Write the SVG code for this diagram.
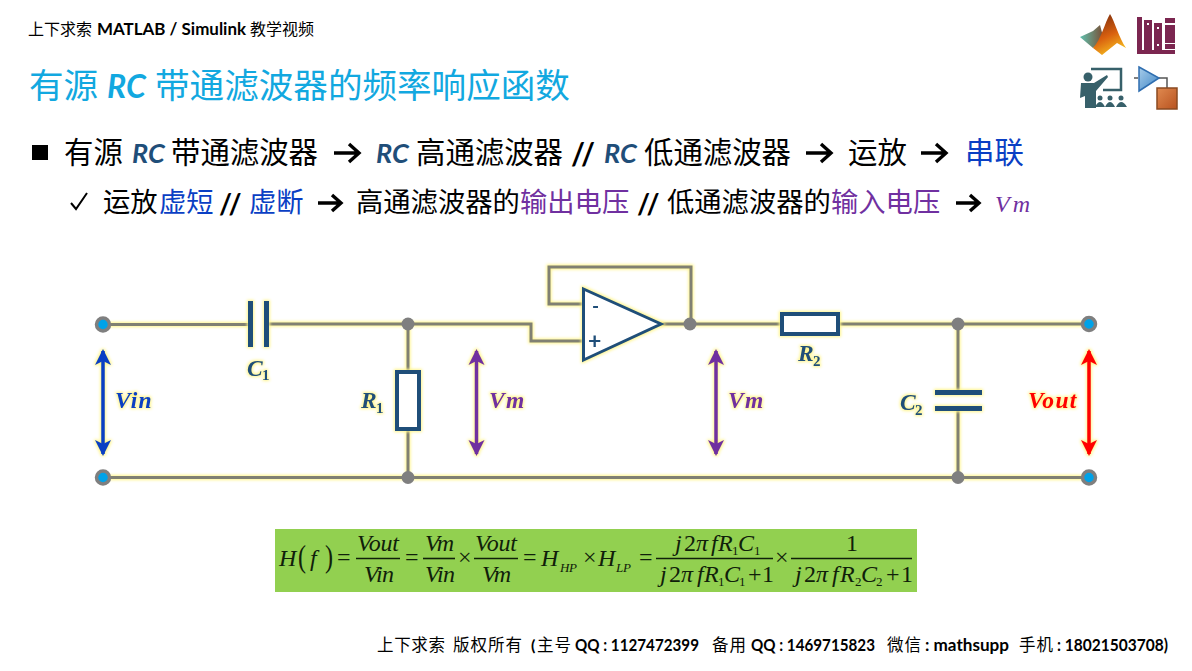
<svg xmlns="http://www.w3.org/2000/svg" width="1192" height="671" viewBox="0 0 1192 671">
<style>
text{font-family:"Noto Sans CJK SC",sans-serif;fill:#000}
.lat{font-family:"Lato","Noto Sans CJK SC",sans-serif;font-weight:700}
.rc{font-family:"Lato",sans-serif;font-weight:700;font-style:italic;fill:#1F4E79;font-size:27px}
.t1{font-size:29.4px}
.t2{font-size:27.3px}
.sl{font-family:"Lato",sans-serif;font-weight:700;letter-spacing:3px;font-size:30px}
.sl2{font-family:"Lato",sans-serif;font-weight:700;letter-spacing:3px;font-size:28px}
.tt{font-size:34.6px;fill:#12A8E0}
.blue{fill:#0A3FC4}
.pur{fill:#7030A0}
.wire{fill:none;stroke:#808072;stroke-width:3}
.comp{fill:none;stroke:#1F4E79;stroke-width:4}
.plate{fill:#1F4E79}
.lab{font-family:"Liberation Serif",serif;font-weight:700;font-style:italic;font-size:23.5px;fill:#1F4E79;letter-spacing:1.300px}
.sub{font-family:"Liberation Serif",serif;font-weight:700;font-size:15px;fill:#1F4E79}
.eq{font-family:"Liberation Serif",serif;font-style:italic;font-size:24px;fill:#10200a}
.eqs{font-family:"Liberation Serif",serif;font-style:italic;font-size:13px;fill:#10200a}
.eqn{font-family:"Liberation Serif",serif;font-size:24px;fill:#10200a}
.eqi{font-family:"Liberation Serif",serif;font-size:13px;fill:#10200a}
.bar{stroke:#10200a;stroke-width:1.600}
.term{fill:#00A2E8;stroke:#7F7F7F;stroke-width:3.500}
.junc{fill:#7F7F7F}
.arr{fill:none;stroke:#000;stroke-width:3.400}
</style>
<defs>
<filter id="glow" x="-20%" y="-20%" width="140%" height="140%" color-interpolation-filters="sRGB">
<feMorphology in="SourceAlpha" operator="dilate" radius="1" result="d"/>
<feGaussianBlur in="d" stdDeviation="1.400" result="b"/>
<feFlood flood-color="#FFF58A"/>
<feComposite in2="b" operator="in"/>
<feMerge><feMergeNode/><feMergeNode in="SourceGraphic"/></feMerge>
</filter>
<marker id="ab" viewBox="0 0 16 20" refX="14" refY="10" markerUnits="userSpaceOnUse" markerWidth="16" markerHeight="20" orient="auto-start-reverse"><path d="M0 2L16 10L0 18L4 10Z" fill="#0A3FC4"/></marker>
<marker id="ap" viewBox="0 0 16 20" refX="14" refY="10" markerUnits="userSpaceOnUse" markerWidth="16" markerHeight="20" orient="auto-start-reverse"><path d="M0 2L16 10L0 18L4 10Z" fill="#7030A0"/></marker>
<marker id="ar" viewBox="0 0 16 20" refX="14" refY="10" markerUnits="userSpaceOnUse" markerWidth="16" markerHeight="20" orient="auto-start-reverse"><path d="M0 2L16 10L0 18L4 10Z" fill="#FF0000"/></marker>
<linearGradient id="mat" x1="0.2" y1="0" x2="0.6" y2="1"><stop offset="0" stop-color="#7a2c0c"/><stop offset=".55" stop-color="#d9600f"/><stop offset="1" stop-color="#f7c020"/></linearGradient>
<linearGradient id="mat2" x1="0" y1="0" x2="1" y2="0"><stop offset="0" stop-color="#5fc0ae"/><stop offset="1" stop-color="#7a4a30"/></linearGradient>
<linearGradient id="tri" x1="0" y1="0" x2="1" y2="1"><stop offset="0" stop-color="#a8cdea"/><stop offset="1" stop-color="#3f86c6"/></linearGradient>
<linearGradient id="sq" x1="0" y1="0" x2="1" y2="1"><stop offset="0" stop-color="#e08a50"/><stop offset="1" stop-color="#b8521f"/></linearGradient>
</defs>

<g id="header">
<text x="28" y="35" font-size="16" textLength="64">上下求索</text>
<text class="lat" x="97" y="35" font-size="17" textLength="149" lengthAdjust="spacingAndGlyphs">MATLAB / Simulink</text>
<text x="250" y="35" font-size="16" textLength="64">教学视频</text>
</g>
<g id="title">
<text class="tt" x="29" y="98">有源</text>
<text x="107" y="98" font-size="32" style="font-family:Lato,sans-serif;font-weight:700;font-style:italic;fill:#12A8E0">RC</text>
<text class="tt" x="155" y="98">带通滤波器的频率响应函数</text>
</g>
<g id="line1">
<rect x="32" y="145" width="16" height="15"/>
<text class="t1" x="64" y="163">有源</text>
<text class="rc" x="132" y="163">RC</text>
<text class="t1" x="171" y="163">带通滤波器</text>
<path class="arr" d="M334 153H358M349 144L359 153L349 162"/>
<text class="rc" x="376" y="163">RC</text>
<text class="t1" x="416" y="163">高通滤波器</text>
<text class="sl" x="571" y="165">//</text>
<text class="rc" x="604" y="163">RC</text>
<text class="t1" x="644" y="163">低通滤波器</text>
<path class="arr" d="M806 153H830M821 144L831 153L821 162"/>
<text class="t1" x="848" y="163">运放</text>
<path class="arr" d="M921 153H945M936 144L946 153L936 162"/>
<text class="t1 blue" x="965" y="163">串联</text>
</g>
<g id="line2">
<path d="M71 203L76 209L87 193" fill="none" stroke="#000" stroke-width="2"/>
<text class="t2" x="103" y="212">运放</text>
<text class="t2 blue" x="159" y="212">虚短</text>
<text class="sl2" x="219" y="214">//</text>
<text class="t2 blue" x="249" y="212">虚断</text>
<path class="arr" d="M318 203H340M332 195L341 203L332 211"/>
<text class="t2" x="356" y="212">高通滤波器的</text>
<text class="t2 pur" x="520" y="212">输出电压</text>
<text class="sl2" x="637" y="214">//</text>
<text class="t2" x="667" y="212">低通滤波器的</text>
<text class="t2 pur" x="831" y="212">输入电压</text>
<path class="arr" d="M956 203H978M970 195L979 203L970 211"/>
<text x="995" y="212" font-size="24" textLength="35" style="font-family:'Liberation Serif',serif;font-style:italic;fill:#7030A0">Vm</text>
</g>

<g id="icons">
<g id="icon-matlab">
<path d="M1080 37L1093 31L1100 25L1104 40L1093 48Z" fill="url(#mat2)"/>
<path d="M1110 14C1115 22 1119 38 1126 48L1117 43L1102 55L1093 48C1101 40 1105 22 1110 14Z" fill="url(#mat)"/>
</g>
<g id="icon-books" fill="#7B2650">
<rect x="1137" y="17" width="5" height="33"/><rect x="1144" y="20" width="8" height="30"/><rect x="1154" y="23" width="8" height="27"/><rect x="1165" y="18" width="10" height="5"/><rect x="1165" y="25" width="10" height="18"/><rect x="1165" y="44" width="10" height="5"/><rect x="1137" y="50" width="38" height="4"/>
<rect x="1147" y="23" width="2" height="2" fill="#fff"/><rect x="1157" y="27" width="2" height="2" fill="#fff"/><rect x="1157" y="44" width="2" height="2" fill="#fff"/>
</g>
<g id="icon-teacher">
<path d="M1091 69H1121V90H1103" fill="none" stroke="#37606a" stroke-width="2.500"/>
<circle cx="1088" cy="77" r="4.500" fill="#37606a"/>
<path d="M1081 83H1094L1107 75L1108 77L1096 91V108H1085V96L1080 98Z" fill="#37606a"/>
<g fill="#37606a"><circle cx="1100" cy="98" r="2.500"/><path d="M1095 107Q1100 97 1105 107Z"/><circle cx="1110" cy="98" r="2.500"/><path d="M1105 107Q1110 97 1115 107Z"/><circle cx="1121" cy="98" r="2.500"/><path d="M1116 107Q1121 97 1127 107Z"/></g>
</g>
<g id="icon-block">
<path d="M1134 78H1138M1159 78H1167V88" fill="none" stroke="#555" stroke-width="1.500"/>
<path d="M1139 67L1159 78L1139 91Z" fill="url(#tri)" stroke="#2f6eb0" stroke-width="1.500"/>
<rect x="1157" y="88" width="20" height="21" fill="url(#sq)" stroke="#8a4a20" stroke-width="1.500"/>
</g>
</g>

<g id="connectors" filter="url(#glow)">
<path class="wire" d="M103 324.500H250M267 324H408H531V341H583"/>
<path class="wire" d="M408 324V371M408 429V477"/>
<path class="wire" d="M103 477.500H1089"/>
<path class="wire" d="M583 304H549V267H691V324"/>
<path class="wire" d="M661 324H781M838 324H1089"/>
<path class="wire" d="M958 324V392M958 408V477"/>
<path d="M103 351V454" stroke="#0A3FC4" stroke-width="3.500" marker-start="url(#ab)" marker-end="url(#ab)" fill="none"/>
<path d="M476.500 351V454" stroke="#7030A0" stroke-width="3.500" marker-start="url(#ap)" marker-end="url(#ap)" fill="none"/>
<path d="M716 351V454" stroke="#7030A0" stroke-width="3.500" marker-start="url(#ap)" marker-end="url(#ap)" fill="none"/>
<path d="M1089 351V454" stroke="#FF0000" stroke-width="3.500" marker-start="url(#ar)" marker-end="url(#ar)" fill="none"/>
</g>
<g id="C1" filter="url(#glow)">
<rect class="plate" x="248" y="301" width="5" height="46"/><rect class="plate" x="264" y="301" width="5" height="46"/>
<text class="lab" x="247" y="376">C</text><text class="sub" x="262" y="380">1</text>
</g>
<g id="R1" filter="url(#glow)">
<rect class="comp" x="397" y="372" width="22" height="57" style="fill:#fff"/>
<text class="lab" x="361" y="408">R</text><text class="sub" x="376" y="413">1</text>
</g>
<g id="opamp" filter="url(#glow)">
<path class="comp" d="M583.500 289L661 324L583.500 360Z" style="fill:#fff;stroke-width:3"/>
<text x="592" y="313" font-size="19" style="font-family:Lato,sans-serif;font-weight:700;fill:#1F4E79">-</text>
<text x="588" y="349" font-size="23" style="font-family:Lato,sans-serif;font-weight:700;fill:#1F4E79">+</text>
</g>
<g id="R2" filter="url(#glow)">
<rect class="comp" x="782" y="314" width="56" height="20" style="fill:#fff"/>
<text class="lab" x="798" y="361">R</text><text class="sub" x="813" y="366">2</text>
</g>
<g id="C2" filter="url(#glow)">
<rect class="plate" x="935" y="390" width="47" height="5"/><rect class="plate" x="935" y="406" width="47" height="5"/>
<text class="lab" x="900" y="410">C</text><text class="sub" x="915" y="415">2</text>
</g>
<g id="labels" filter="url(#glow)">
<text class="lab" x="115" y="408" style="fill:#0A3FC4">Vin</text>
<text class="lab" x="489" y="408" style="fill:#7030A0">Vm</text>
<text class="lab" x="728" y="408" style="fill:#7030A0">Vm</text>
<text class="lab" x="1028" y="408" style="fill:#FF0000">Vout</text>
</g>
<g id="nodes">
<circle class="term" cx="103" cy="324.500" r="6.500"/><circle class="term" cx="103" cy="477.500" r="6.500"/>
<circle class="term" cx="1089" cy="324" r="6.500"/><circle class="term" cx="1089" cy="477.500" r="6.500"/>
<circle class="junc" cx="408" cy="324" r="6.500"/><circle class="junc" cx="408" cy="477.500" r="6.500"/>
<circle class="junc" cx="690" cy="324" r="6.500"/>
<circle class="junc" cx="958" cy="324" r="6.500"/><circle class="junc" cx="958" cy="477.500" r="6.500"/>
</g>

<g id="equation">
<rect x="275" y="529" width="642" height="63" fill="#92D050"/>
<text class="eq" x="279" y="566">H</text>
<text class="eqn" x="298" y="567" style="font-size:32px" textLength="8" lengthAdjust="spacingAndGlyphs">(</text>
<text class="eq" x="310" y="566">f</text>
<text class="eqn" x="325" y="567" style="font-size:32px" textLength="8" lengthAdjust="spacingAndGlyphs">)</text>
<text class="eqn" x="337" y="565" textLength="14">=</text>
<text class="eq" x="357" y="551" textLength="42">Vout</text>
<text class="eq" x="364" y="582" textLength="30">Vin</text>
<line class="bar" x1="356" y1="558.500" x2="400" y2="558.500"/>
<text class="eqn" x="405" y="565" textLength="14">=</text>
<text class="eq" x="425" y="551" textLength="29">Vm</text>
<text class="eq" x="425" y="582" textLength="30">Vin</text>
<line class="bar" x1="423" y1="558.500" x2="455" y2="558.500"/>
<text class="eqn" x="458" y="565" textLength="13">×</text>
<text class="eq" x="475" y="551" textLength="42">Vout</text>
<text class="eq" x="482" y="582" textLength="29">Vm</text>
<line class="bar" x1="474" y1="558.500" x2="518" y2="558.500"/>
<text class="eqn" x="523" y="565" textLength="14">=</text>
<text class="eq" x="541" y="566">H</text><text class="eqs" x="560" y="572" textLength="17">HP</text>
<text class="eqn" x="583" y="565" textLength="13">×</text>
<text class="eq" x="598" y="566">H</text><text class="eqs" x="616" y="572" textLength="15">LP</text>
<text class="eqn" x="639" y="565" textLength="14">=</text>
<g id="num1">
<text class="eq" x="675" y="551">j</text><text class="eqn" x="684" y="551">2</text><text class="eq" x="696" y="551">π</text><text class="eq" x="711" y="551">f</text><text class="eq" x="718" y="551">R</text><text class="eqi" x="732" y="555">1</text><text class="eq" x="738" y="551">C</text><text class="eqi" x="754" y="555">1</text>
</g>
<g id="den1">
<text class="eq" x="660" y="582">j</text><text class="eqn" x="669" y="582">2</text><text class="eq" x="681" y="582">π</text><text class="eq" x="697" y="582">f</text><text class="eq" x="704" y="582">R</text><text class="eqi" x="718" y="586">1</text><text class="eq" x="724" y="582">C</text><text class="eqi" x="739" y="586">1</text><text class="eqn" x="748" y="582">+</text><text class="eqn" x="762" y="582">1</text>
</g>
<line class="bar" x1="656" y1="558.500" x2="773" y2="558.500"/>
<text class="eqn" x="775" y="565" textLength="13">×</text>
<text class="eqn" x="846" y="551">1</text>
<g id="den2">
<text class="eq" x="795" y="582">j</text><text class="eqn" x="804" y="582">2</text><text class="eq" x="816" y="582">π</text><text class="eq" x="832" y="582">f</text><text class="eq" x="840" y="582">R</text><text class="eqi" x="855" y="586">2</text><text class="eq" x="861" y="582">C</text><text class="eqi" x="876" y="586">2</text><text class="eqn" x="886" y="582">+</text><text class="eqn" x="901" y="582">1</text>
</g>
<line class="bar" x1="791" y1="558.500" x2="912" y2="558.500"/>
</g>

<g id="footer">
<text x="377" y="651" font-size="16.500" textLength="68">上下求索</text>
<text x="453" y="651" font-size="16.500" textLength="69">版权所有</text>
<text class="lat" x="531" y="651" font-size="16">(</text>
<text x="537" y="651" font-size="16.500" textLength="34">主号</text>
<text class="lat" x="575" y="651" font-size="17" textLength="124" lengthAdjust="spacingAndGlyphs">QQ : 1127472399</text>
<text x="712" y="651" font-size="16.500" textLength="34">备用</text>
<text class="lat" x="751" y="651" font-size="17" textLength="124" lengthAdjust="spacingAndGlyphs">QQ : 1469715823</text>
<text x="887" y="651" font-size="16.500" textLength="34">微信</text>
<text class="lat" x="925" y="651" font-size="17" textLength="84" lengthAdjust="spacingAndGlyphs">: mathsupp</text>
<text x="1019" y="651" font-size="16.500" textLength="34">手机</text>
<text class="lat" x="1057" y="651" font-size="17" textLength="111" lengthAdjust="spacingAndGlyphs">: 18021503708)</text>
</g>
</svg>
